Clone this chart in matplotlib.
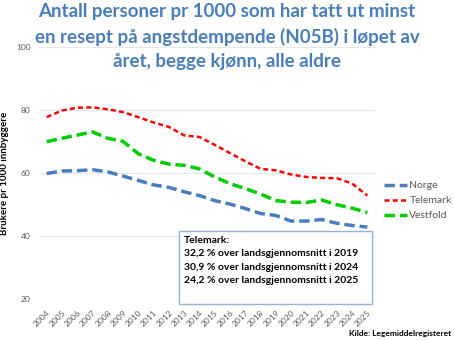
import matplotlib.pyplot as plt
from matplotlib.patches import Rectangle

years = list(range(2004, 2026))
norge = [59.8, 60.6, 60.7, 61.0, 60.3, 59.0, 57.6, 56.2, 55.4, 54.0, 52.8, 51.2,
         50.1, 48.7, 47.1, 46.5, 44.7, 44.7, 45.2, 44.0, 43.3, 42.8]
telemark = [77.7, 79.8, 80.7, 80.8, 80.2, 79.3, 77.7, 76.0, 74.6, 71.9, 71.4, 68.9,
            66.3, 63.7, 61.3, 60.8, 59.5, 58.7, 58.4, 58.3, 56.6, 52.8]
vestfold = [69.9, 71.0, 72.0, 73.0, 71.0, 70.0, 66.1, 64.0, 62.8, 62.4, 61.3, 58.7,
            56.6, 55.0, 53.3, 51.2, 50.7, 50.6, 51.4, 49.9, 48.8, 47.4]
series = ["Norge", "Telemark", "Vestfold"]
title = "Antall personer pr 1000 som har tatt ut minst\nen resept på angstdempende (N05B) i løpet av\nåret, begge kjønn, alle aldre"
box_lines = ["Telemark:",
             "32,2 % over landsgjennomsnitt i 2019",
             "30,9 % over landsgjennomsnitt i 2024",
             "24,2 % over landsgjennomsnitt i 2025"]

plt.rcParams['font.family'] = ['Lato', 'DejaVu Sans']

fig = plt.figure(figsize=(4.54, 3.4), dpi=100)
ax = fig.add_axes([0.086, 0.121, 0.740, 0.741])

ax.plot(years, norge, color="#4A7EBB", lw=2.5, dashes=(3, 1.4), label=series[0])
ax.plot(years, telemark, color="#FF0000", lw=1.8, dashes=(2, 1.3), label=series[1])
ax.plot(years, vestfold, color="#00CC00", lw=2.5, dashes=(3, 1.4), label=series[2])

ax.set_xlim(2003.5, 2025.5)
ax.set_ylim(20, 100)
ax.set_yticks([20, 40, 60, 80, 100])
ax.set_xticks(years)
ax.set_xticklabels([str(y) for y in years], rotation=45, ha="right",
                   rotation_mode="anchor", fontsize=6, color="#595959")
ax.tick_params(axis="y", labelsize=6, labelcolor="#595959", length=0, pad=6)
ax.tick_params(axis="x", length=0, pad=7)
ax.grid(axis="y", color="#E6E6E6", lw=0.8)
ax.set_axisbelow(True)
for s in ax.spines.values():
    s.set_visible(False)

ax.set_ylabel("Brukere pr 1000 innbyggere", fontsize=7, fontweight="bold")
ax.yaxis.set_label_coords(-0.088, 0.5)

leg = ax.legend(loc="center left", bbox_to_anchor=(1.0, 0.39), frameon=False,
                fontsize=7.5, handlelength=2.2, labelspacing=0.55, handletextpad=0.2,
                labelcolor="#595959")

fig.text(0.5, 0.99, title, ha="center", va="top", fontsize=13.5, fontweight="bold",
         color="#4A7EBB", linespacing=1.5)

fig.patches.append(Rectangle((0.395, 0.106), 0.424, 0.215, transform=fig.transFigure,
                             facecolor="white", edgecolor="#95B3D7", lw=1.0, zorder=5))
ys = [0.294, 0.253, 0.212, 0.174]
for t, y in zip(box_lines, ys):
    fig.text(0.405, y, t, ha="left", va="center", fontsize=7.5, fontweight="bold",
             color="black", zorder=6)

fig.text(0.995, 0.02, "Kilde: Legemiddelregisteret", ha="right", va="center",
         fontsize=6, fontweight="bold", color="black")

fig.savefig("out.png", dpi=100)
